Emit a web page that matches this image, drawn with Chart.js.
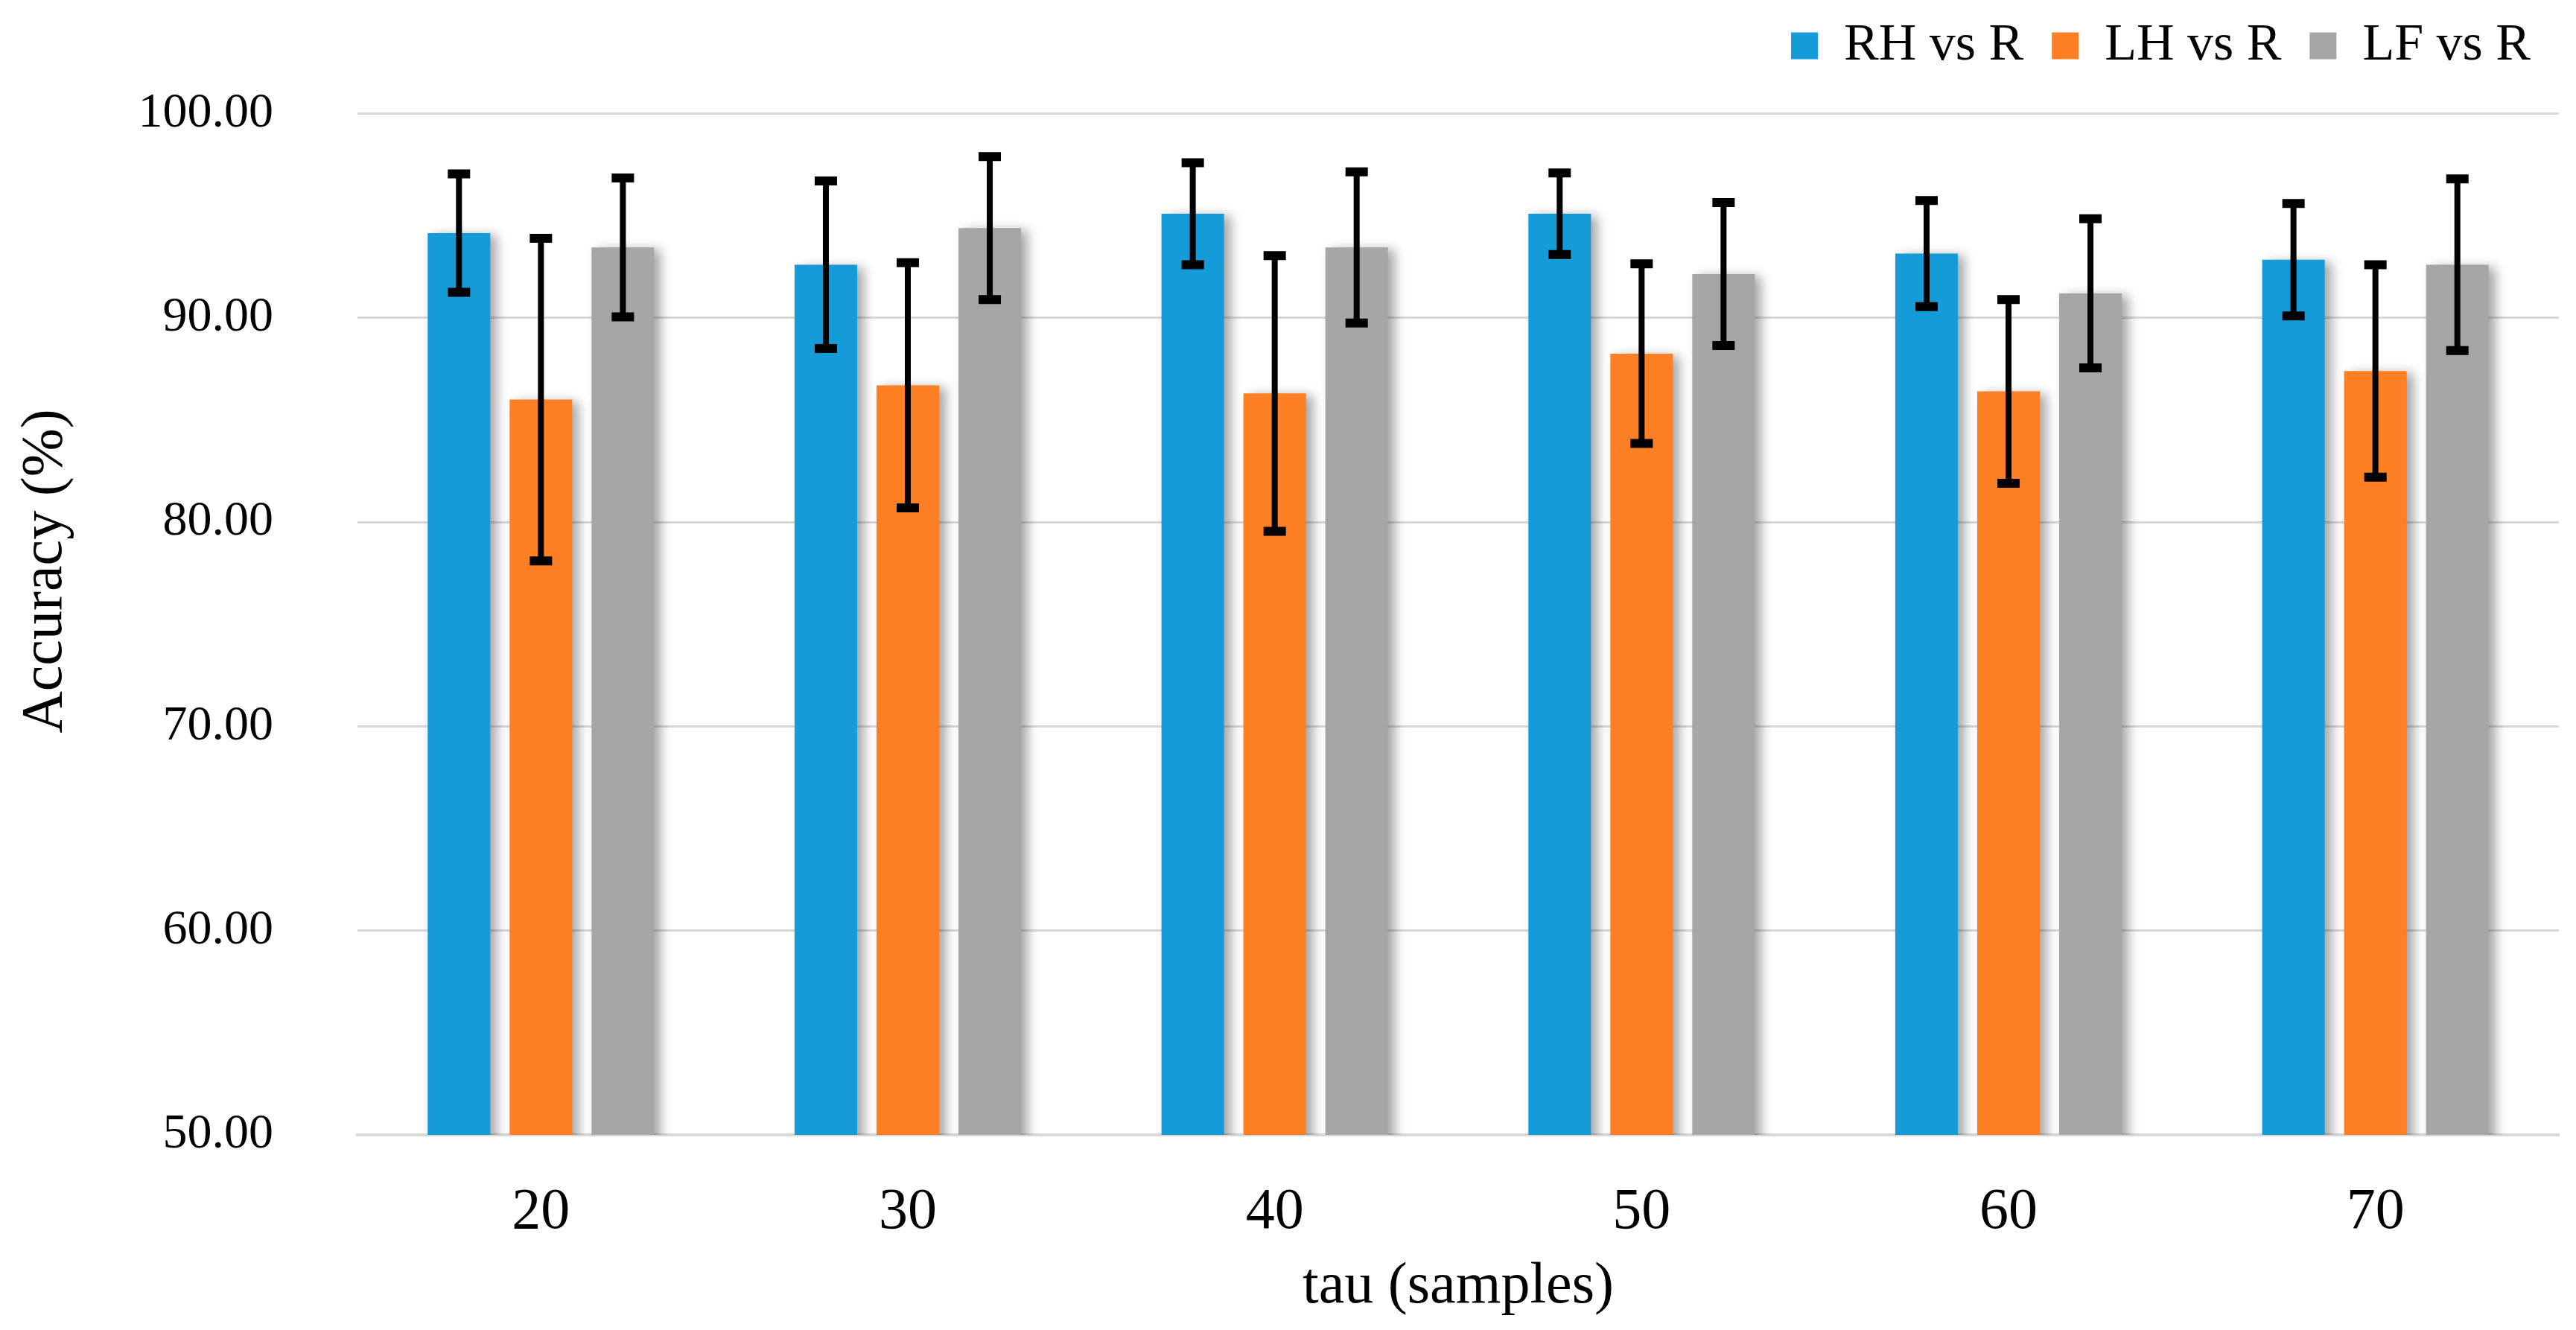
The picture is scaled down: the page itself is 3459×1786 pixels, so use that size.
<!DOCTYPE html>
<html>
<head>
<meta charset="utf-8">
<script src="https://cdn.jsdelivr.net/npm/chart.js@4.4.1/dist/chart.umd.min.js"></script>
<style>
  html, body { margin: 0; padding: 0; background: #fff; }
</style>
</head>
<body>
<canvas id="accChart" width="3459" height="1786"></canvas>
<script>
// values (bar height = mean, whisker = +/- sd)
const tauLabels = ['20', '30', '40', '50', '60', '70'];
const seriesNames = ['RH vs R', 'LH vs R', 'LF vs R'];
const rhMean = [94.15, 92.6, 95.1, 95.1, 93.15, 92.85];
const lhMean = [86.0, 86.7, 86.3, 88.25, 86.4, 87.4];
const lfMean = [93.45, 94.4, 93.45, 92.15, 91.2, 92.6];
const rhSd = [2.9, 4.1, 2.5, 2.0, 2.6, 2.75];
const lhSd = [7.9, 6.0, 6.75, 4.4, 4.5, 5.2];
const lfSd = [3.4, 3.5, 3.7, 3.5, 3.65, 4.2];
const yMin = 50, yMax = 100, yStep = 10;
const xTitle = 'tau (samples)';
const yTitle = 'Accuracy (%)';

const serif = '"Liberation Serif", "Times New Roman", serif';
Chart.defaults.font.family = serif;
Chart.defaults.color = '#000';

// soft drop shadow behind the bars
const barShadow = {
  id: 'barShadow',
  beforeDatasetsDraw(chart) {
    const c = chart.ctx;
    c.save();
    c.shadowColor = 'rgba(0,0,0,0.35)';
    c.shadowBlur = 14;
    c.shadowOffsetX = 9;
    c.shadowOffsetY = 3;
  },
  afterDatasetsDraw(chart) {
    chart.ctx.restore();
  }
};

// whiskers from dataset.sd
const errorBars = {
  id: 'errorBars',
  afterDatasetsDraw(chart) {
    const c = chart.ctx;
    const y = chart.scales.y;
    c.save();
    c.strokeStyle = '#000';
    chart.data.datasets.forEach((ds, i) => {
      chart.getDatasetMeta(i).data.forEach((bar, j) => {
        const top = y.getPixelForValue(ds.data[j] + ds.sd[j]);
        const bot = y.getPixelForValue(ds.data[j] - ds.sd[j]);
        c.lineWidth = 8;
        c.beginPath();
        c.moveTo(bar.x, top);
        c.lineTo(bar.x, bot);
        c.stroke();
        c.lineWidth = 12;
        c.beginPath();
        c.moveTo(bar.x - 15, top); c.lineTo(bar.x + 15, top);
        c.moveTo(bar.x - 15, bot); c.lineTo(bar.x + 15, bot);
        c.stroke();
      });
    });
    c.restore();
  }
};

// rotated y title, placed a bit above the axis middle like the original
const yTitlePlugin = {
  id: 'yTitle',
  afterDraw(chart) {
    const c = chart.ctx;
    c.save();
    c.translate(62, 767);
    c.rotate(-Math.PI / 2);
    c.font = '78px ' + serif;
    c.fillStyle = '#000';
    c.textAlign = 'center';
    c.textBaseline = 'middle';
    c.fillText(yTitle, 0, 0);
    c.restore();
  }
};

// reserve fixed room for the legend so the plot top lands at 100.00
const legendSpace = {
  id: 'legendSpace',
  beforeInit(chart) {
    const fit = chart.legend.fit;
    chart.legend.fit = function () { fit.call(this); this.height = 164; };
  }
};

new Chart(document.getElementById('accChart'), {
  type: 'bar',
  data: {
    labels: tauLabels,
    datasets: [
      { label: seriesNames[0], data: rhMean, sd: rhSd, backgroundColor: '#159BD7' },
      { label: seriesNames[1], data: lhMean, sd: lhSd, backgroundColor: '#FF7F24' },
      { label: seriesNames[2], data: lfMean, sd: lfSd, backgroundColor: '#A6A6A6' }
    ].map(d => Object.assign(d, { borderWidth: 0, categoryPercentage: 0.67, barPercentage: 0.764 }))
  },
  options: {
    responsive: false,
    devicePixelRatio: 1,
    animation: false,
    layout: { padding: { top: -20, right: 23, left: 0, bottom: 0 } },
    plugins: {
      legend: {
        position: 'top',
        align: 'end',
        labels: { boxWidth: 36, boxHeight: 36, padding: 38, font: { size: 70 } }
      },
      tooltip: { enabled: false }
    },
    scales: {
      x: {
        grid: { display: false },
        border: { color: '#d9d9d9', width: 4 },
        ticks: { font: { size: 78 }, padding: 50 },
        title: { display: true, text: xTitle, font: { size: 78 }, padding: { top: 0, bottom: 11 } },
        afterFit(scale) { scale.height = 262; }
      },
      y: {
        min: yMin,
        max: yMax,
        border: { display: false },
        grid: { color: '#d9d9d9', lineWidth: 3, drawTicks: false },
        ticks: {
          stepSize: yStep,
          padding: 113,
          font: { size: 66 },
          callback: v => v.toFixed(2)
        },
        afterFit(scale) { scale.width = 480; }
      }
    }
  },
  plugins: [legendSpace, barShadow, errorBars, yTitlePlugin]
});
</script>
</body>
</html>
